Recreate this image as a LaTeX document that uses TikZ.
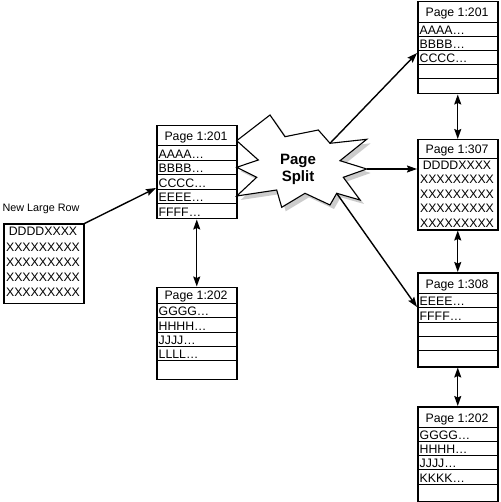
\documentclass[tikz,border=0pt]{standalone}
\usepackage{fontspec}
\setmainfont{Liberation Sans}
\usetikzlibrary{arrows.meta}
\begin{document}
\begin{tikzpicture}[x=1pt,y=-1pt,
  pbox/.style={draw, line width=1.5pt, inner sep=0pt, anchor=north west, minimum width=80pt},
  rowl/.style={line width=0.9pt},
  rtxt/.style={font=\fontsize{12.3}{14}\selectfont, inner sep=0pt, anchor=base west},
  htxt/.style={font=\fontsize{12.3}{14}\selectfont, inner sep=0pt, anchor=base},
  ltxt/.style={font=\fontsize{10.8}{12}\selectfont, inner sep=0pt, anchor=base},
  arr/.style={-{Stealth[length=10pt,width=7pt,inset=1.5pt]}, line width=1.4pt},
  darr/.style={{Stealth[length=10pt,width=7pt,inset=1.5pt]}-{Stealth[length=10pt,width=7pt,inset=1.5pt]}, line width=1.4pt},
]
\useasboundingbox (0,0) rectangle (500,502);

% ---------- New Large Row ----------
\node[ltxt] (nlrlabel) at (41,211.5) {New Large Row};
\node[pbox, minimum height=79pt] (NLR) at (3,223.5) {};
\node[htxt] (nlr1) at (43,236) {DDDDXXXX};
\foreach \y/\n in {251/2,266/3,281/4,296/5}
  \node[htxt] (nlr\n) at (43,\y) {XXXXXXXXX};

% ---------- Left Page 1:201 ----------
\node[pbox, minimum height=93pt] (L201) at (156,125) {};
\foreach \y in {145,160,174.5,189,203.5} \draw[rowl] (156,\y) -- (236,\y);
\node[htxt] (L201h) at (196,140.5) {Page 1:201};
\node[rtxt] (L201a) at (158.5,158.3) {AAAA…};
\node[rtxt] (L201b) at (158.5,172.8) {BBBB…};
\node[rtxt] (L201c) at (158.5,187.3) {CCCC…};
\node[rtxt] (L201e) at (158.5,201.8) {EEEE…};
\node[rtxt] (L201f) at (158.5,216.3) {FFFF…};

% ---------- Left Page 1:202 ----------
\node[pbox, minimum height=92pt] (L202) at (156,286.5) {};
\foreach \y in {303.5,317.5,332,346,360.5} \draw[rowl] (156,\y) -- (236,\y);
\node[htxt] (L202h) at (196,299) {Page 1:202};
\node[rtxt] (L202g) at (158.5,315.8) {GGGG…};
\node[rtxt] (L202hh) at (158.5,330.3) {HHHH…};
\node[rtxt] (L202j) at (158.5,344.3) {JJJJ…};
\node[rtxt] (L202l) at (158.5,358.8) {LLLL…};

% ---------- Right Page 1:201 ----------
\node[pbox, minimum height=92pt] (R201) at (417,1) {};
\foreach \y in {22,36,50,64,78} \draw[rowl] (417,\y) -- (497,\y);
\node[htxt] (R201h) at (457,17) {Page 1:201};
\node[rtxt] (R201a) at (419.5,34.3) {AAAA…};
\node[rtxt] (R201b) at (419.5,48.3) {BBBB…};
\node[rtxt] (R201c) at (419.5,62.3) {CCCC…};

% ---------- Right Page 1:307 ----------
\node[pbox, minimum height=90pt] (R307) at (417,139) {};
\draw[rowl] (417,158) -- (497,158);
\node[htxt] (R307h) at (457,153.5) {Page 1:307};
\node[htxt] (R307a) at (457,169.5) {DDDDXXXX};
\foreach \y/\n in {184/b,198.5/c,213/d,227.5/e}
  \node[htxt] (R307\n) at (457,\y) {XXXXXXXXX};

% ---------- Right Page 1:308 ----------
\node[pbox, minimum height=94pt] (R308) at (417,272) {};
\foreach \y in {293,307,322,336,350} \draw[rowl] (417,\y) -- (497,\y);
\node[htxt] (R308h) at (457,288.5) {Page 1:308};
\node[rtxt] (R308e) at (419.5,305.3) {EEEE…};
\node[rtxt] (R308f) at (419.5,320.3) {FFFF…};

% ---------- Right Page 1:202 ----------
\node[pbox, minimum height=94.5pt] (R202) at (417,406) {};
\foreach \y in {427,441,455,469,484} \draw[rowl] (417,\y) -- (497,\y);
\node[htxt] (R202h) at (457,422.5) {Page 1:202};
\node[rtxt] (R202g) at (419.5,439.3) {GGGG…};
\node[rtxt] (R202hh) at (419.5,453.3) {HHHH…};
\node[rtxt] (R202j) at (419.5,467.3) {JJJJ…};
\node[rtxt] (R202k) at (419.5,482.3) {KKKK…};

% ---------- Page Split burst ----------
\def\burst{(236.7,140.7) -- (258.3,160) -- (236.7,167.3) -- (256.7,177.3) -- (236.7,196)
  -- (276.7,190) -- (281.7,207.3) -- (305,193.3) -- (330,205) -- (336.7,193.3)
  -- (360,200) -- (343.3,177.3) -- (366.7,169) -- (340,160.7) -- (366.7,139.3)
  -- (330,143.3) -- (318.3,130) -- (285,136.7) -- (270,115) -- cycle}
\fill[gray!40, shift={(4,4)}] \burst;
\filldraw[fill=white, line width=1.1pt, line join=miter] \burst;
\node[font=\fontsize{15}{17}\selectfont\bfseries, align=center, inner sep=0pt] (split) at (298,169) {Page\\Split};

% ---------- connectors ----------
\coordinate (t0) at (156,188);
\draw[arr] (NLR.north east) -- (t0);
\draw[darr] (L201.south) -- (L202.north);

\coordinate (b1) at (330,143.3);
\coordinate (t1) at (417,53);
\coordinate (b2) at (366.7,169);
\coordinate (t2) at (417,169);
\coordinate (b3) at (336.7,193.3);
\coordinate (t3) at (417,307);
\draw[arr] (b1) -- (t1);
\draw[arr] (b2) -- (t2);
\draw[arr] (b3) -- (t3);

\draw[darr] (R201.south) -- (R307.north);
\draw[darr] (R307.south) -- (R308.north);
\draw[darr] (R308.south) -- (R202.north);
\end{tikzpicture}
\end{document}
